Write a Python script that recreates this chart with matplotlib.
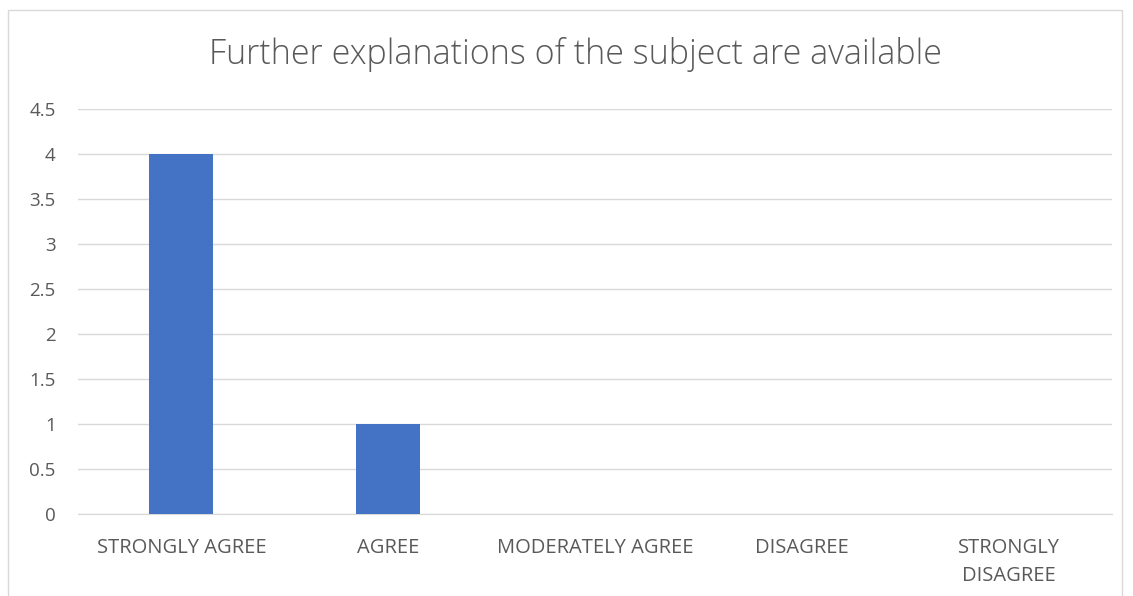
import matplotlib
matplotlib.use('Agg')
import matplotlib.pyplot as plt
import matplotlib.patches as patches

categories = ['STRONGLY AGREE', 'AGREE', 'MODERATELY AGREE', 'DISAGREE', 'STRONGLY\nDISAGREE']
counts = [4, 1, 0, 0, 0]
yticks = [0, 0.5, 1, 1.5, 2, 2.5, 3, 3.5, 4, 4.5]
ytick_labels = ['0', '0.5', '1', '1.5', '2', '2.5', '3', '3.5', '4', '4.5']
title = 'Further explanations of the subject are available'

plt.rcParams['font.family'] = ['Open Sans', 'DejaVu Sans']

W, H = 1133, 596
fig = plt.figure(figsize=(W / 100, H / 100), dpi=100)

# outer chart border (bottom is cut off in the original)
border = patches.Rectangle((8 / W, -0.1), (1122 - 8) / W, (H - 10) / H + 0.1,
                           transform=fig.transFigure, fill=False,
                           edgecolor='#d9d9d9', linewidth=1)
fig.patches.append(border)

ax = fig.add_axes([78 / W, (H - 514) / H, (1112 - 78) / W, (514 - 109) / H])
x = range(len(categories))
ax.bar(x, counts, width=0.31, color='#4472c4', zorder=3)

ax.set_xlim(-0.5, len(categories) - 0.5)
ax.set_ylim(0, 4.5)
ax.set_yticks(yticks)
ax.set_yticklabels(ytick_labels)
ax.set_xticks(list(x))

ax.grid(axis='y', color='#d9d9d9', linewidth=1, zorder=0)
for side in ['top', 'right', 'left']:
    ax.spines[side].set_visible(False)
ax.spines['bottom'].set_color('#d9d9d9')
ax.tick_params(axis='y', length=0, labelsize=13.5, colors='#595959', pad=16)
ax.tick_params(axis='x', length=0, labelsize=14.5, colors='#595959', pad=17)
ax.set_xticklabels(categories, va='top', linespacing=1.55)

fig.text(575 / W, (H - 55) / H, title, ha='center', va='center',
         fontsize=24.5, color='#595959', fontweight='light')

fig.savefig('out.png', dpi=100)
